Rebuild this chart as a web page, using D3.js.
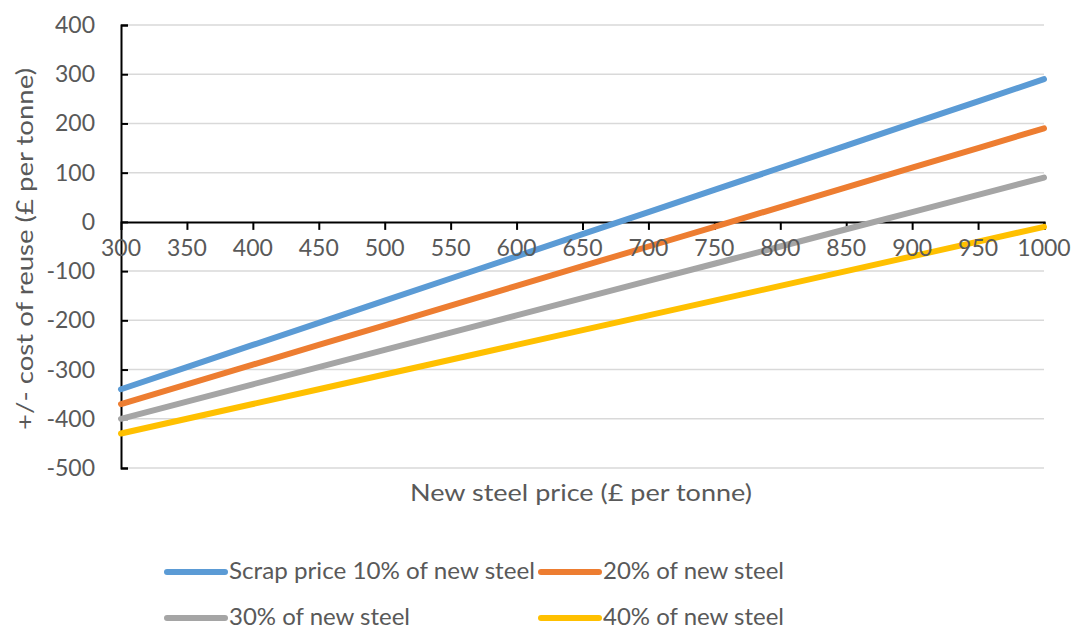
<!DOCTYPE html>
<html><head><meta charset="utf-8">
<script src="https://cdn.jsdelivr.net/npm/d3@7"></script>
<style>
html,body{margin:0;padding:0;background:#fff;}
text{font-family:Lato, "Open Sans", sans-serif;fill:#595959;}
</style></head>
<body>
<svg id="chart" width="1074" height="629"></svg>
<script>
const prices = [300,350,400,450,500,550,600,650,700,750,800,850,900,950,1000];
const scrap10 = [-340,-295,-250,-205,-160,-115,-70,-25,20,65,110,155,200,245,290];
const scrap20 = [-370,-330,-290,-250,-210,-170,-130,-90,-50,-10,30,70,110,150,190];
const scrap30 = [-400,-365,-330,-295,-260,-225,-190,-155,-120,-85,-50,-15,20,55,90];
const scrap40 = [-430,-400,-370,-340,-310,-280,-250,-220,-190,-160,-130,-100,-70,-40,-10];
const seriesNames = ["Scrap price 10% of new steel","20% of new steel","30% of new steel","40% of new steel"];
const seriesColors = ["#5B9BD5","#ED7D31","#A5A5A5","#FFC000"];
const yTicks = [400,300,200,100,0,-100,-200,-300,-400,-500];
const xTicks = [300,350,400,450,500,550,600,650,700,750,800,850,900,950,1000];
const xTitle = "New steel price (£ per tonne)";
const yTitle = "+/- cost of reuse (£ per tonne)";

const series = [scrap10,scrap20,scrap30,scrap40].map((vals,i)=>({
  name: seriesNames[i], color: seriesColors[i],
  points: prices.map((p,j)=>({x:p,y:vals[j]}))
}));

const svg = d3.select("#chart");
svg.append("rect").attr("width",1074).attr("height",629).attr("fill","#fff");

const pLeft=121, pRight=1044, pTop=25, pBottom=468;
const x = d3.scaleLinear().domain([300,1000]).range([pLeft,pRight]);
const y = d3.scaleLinear().domain([-500,400]).range([pBottom,pTop]);

// gridlines
svg.append("g").selectAll("line").data(yTicks.filter(d=>d!==0)).join("line")
  .attr("x1",pLeft).attr("x2",pRight)
  .attr("y1",d=>y(d)).attr("y2",d=>y(d))
  .attr("stroke","#d9d9d9").attr("stroke-width",1.5);

// y axis
const yAxis = d3.axisRight(y).tickValues(yTicks).tickSize(7).tickFormat("");
const gy = svg.append("g").attr("transform",`translate(${pLeft},0)`).call(yAxis);
gy.select(".domain").attr("stroke","#000").attr("stroke-width",2);
gy.selectAll(".tick line").attr("stroke","#000").attr("stroke-width",2);

// x axis at zero
const xAxis = d3.axisBottom(x).tickValues(xTicks).tickSize(8).tickFormat("");
const gx = svg.append("g").attr("transform",`translate(0,${y(0)})`).call(xAxis);
gx.select(".domain").attr("stroke","#000").attr("stroke-width",2);
gx.selectAll(".tick line").attr("stroke","#000").attr("stroke-width",2);
gx.selectAll(".tick").filter(d=>d===300).select("line").remove();

// series
const line = d3.line().x(d=>x(d.x)).y(d=>y(d.y));
svg.append("g").selectAll("path").data(series).join("path")
  .attr("d",d=>line(d.points))
  .attr("fill","none").attr("stroke",d=>d.color)
  .attr("stroke-width",6).attr("stroke-linecap","round");

// tick labels
svg.append("g").selectAll("text").data(yTicks).join("text")
  .attr("x",pLeft-26).attr("y",d=>y(d)+8)
  .attr("text-anchor","end").attr("font-size",23).text(d=>d);
svg.append("g").selectAll("text").data(xTicks).join("text")
  .attr("x",d=>x(d)).attr("y",y(0)+34)
  .attr("text-anchor","middle").attr("font-size",23).text(d=>d);

// titles
svg.append("text").attr("x",410).attr("y",501)
  .attr("font-size",24).attr("textLength",342).attr("lengthAdjust","spacingAndGlyphs").text(xTitle);
svg.append("text").attr("transform",`translate(33,430) rotate(-90)`)
  .attr("font-size",24).attr("textLength",362).attr("lengthAdjust","spacingAndGlyphs").text(yTitle);

// legend
const legPos = [[166,572],[540,572],[166,618],[540,618]];
const lg = svg.append("g").selectAll("g").data(series).join("g")
  .attr("transform",(d,i)=>`translate(${legPos[i][0]},${legPos[i][1]})`);
lg.append("line").attr("x1",1).attr("x2",59).attr("y1",0).attr("y2",0)
  .attr("stroke",d=>d.color).attr("stroke-width",6).attr("stroke-linecap","round");
lg.append("text").attr("x",63).attr("y",7).attr("font-size",23)
  .attr("textLength",(d,i)=> i===0?306:181).attr("lengthAdjust","spacingAndGlyphs")
  .text(d=>d.name);
</script>
</body></html>
